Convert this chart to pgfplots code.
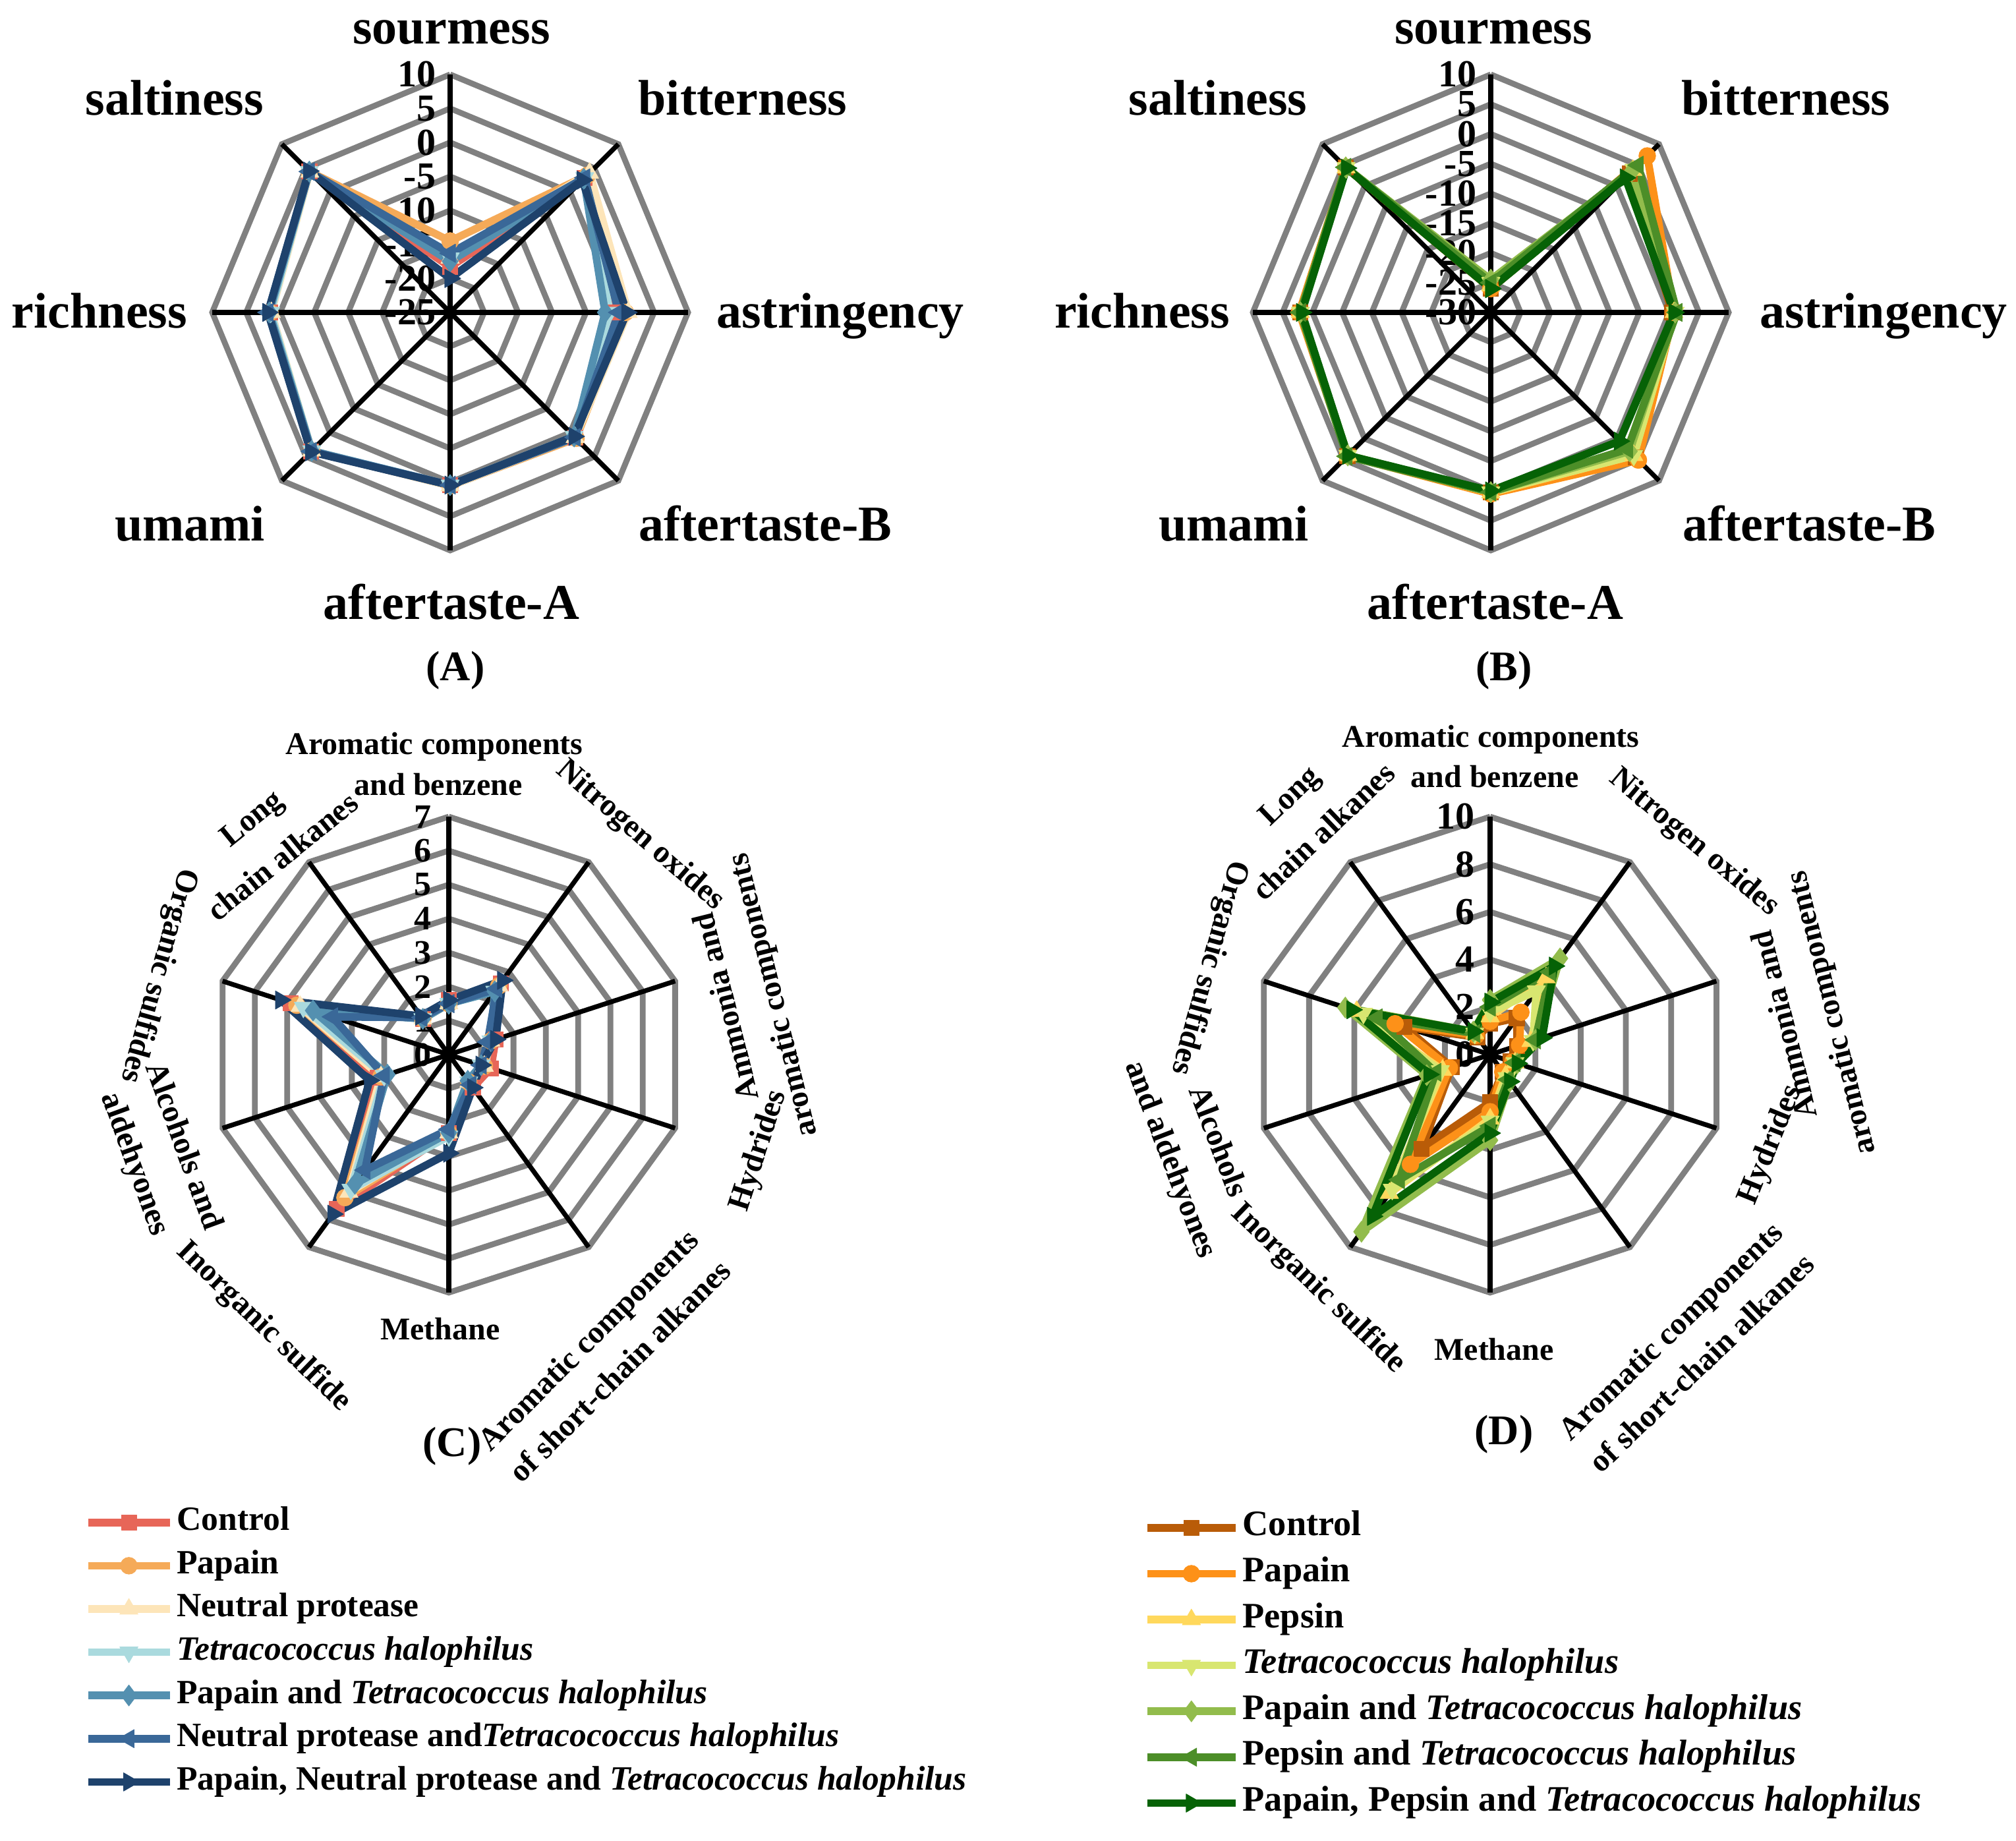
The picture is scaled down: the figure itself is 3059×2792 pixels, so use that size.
\documentclass[border=0pt]{standalone}
\usepackage{fontspec}
\setmainfont{Liberation Serif}
\usepackage{pgfplots}
\usepackage{pgfplotstable}
\pgfplotsset{compat=1.18}

\definecolor{gridgray}{RGB}{128,128,128}
% colours of panels A and C
\definecolor{aC}{RGB}{231,102,88}
\definecolor{aP}{RGB}{245,170,88}
\definecolor{aN}{RGB}{253,229,185}
\definecolor{aT}{RGB}{170,218,222}
\definecolor{aPT}{RGB}{84,144,176}
\definecolor{aNT}{RGB}{58,104,152}
\definecolor{aPNT}{RGB}{30,66,108}
% colours of panels B and D
\definecolor{bC}{RGB}{185,92,8}
\definecolor{bP}{RGB}{253,145,24}
\definecolor{bPe}{RGB}{255,216,92}
\definecolor{bT}{RGB}{216,230,112}
\definecolor{bPT}{RGB}{146,188,76}
\definecolor{bPeT}{RGB}{76,142,40}
\definecolor{bPPT}{RGB}{6,98,6}

% electronic tongue, panel A (last row closes the polygon)
\pgfplotstableread{
i c p n t pt nt pnt
0 -18.3 -14.5 -17 -17 -17.5 -16.3 -20
1 3 3.5 4 3 2.8 3 2.5
2 -0.8 0.8 1.2 -1.5 -2.2 -0.2 1
3 1 1.2 1 0.8 0.8 1 0.8
4 0.4 0.5 0.5 0.4 0.4 0.4 0.4
5 3.9 3.8 3.8 3.8 3.8 3.9 4
6 1.5 1.5 1.3 1.4 1.6 1.8 1.8
7 4.3 4.3 4.2 4.3 4.3 4.3 4.4
8 -18.3 -14.5 -17 -17 -17.5 -16.3 -20
}\tasteA

% electronic tongue, panel B
\pgfplotstableread{
i c p pe t pt pet ppt
0 -26 -26 -25.5 -25 -24.5 -25 -26
1 3 7.2 3.8 4 3.5 5 2
2 0.5 0.8 0.8 1 1 1.3 0.8
3 4.5 5.1 4 4 3 2.5 0.6
4 0.2 0.5 0.3 0.2 0.2 0.2 0
5 4.1 4.1 4 4 4 4.2 4
6 2 2.2 2 2 2 2 1.8
7 4.5 4.5 4.4 4.4 4.5 4.5 4.3
8 -26 -26 -25.5 -25 -24.5 -25 -26
}\tasteB

% electronic nose, panel C
\pgfplotstableread{
i c p n t pt nt pnt
0 1.6 1.5 1.5 1.5 1.5 1.5 1.6
1 2.6 2.5 2.5 2.3 2.3 2.4 2.7
2 1.45 1.3 1.3 1.3 1.3 1.2 1.45
3 1.3 1.1 1.1 1.0 1.0 1.0 1.0
4 1.2 1.0 1.0 1.0 0.95 1.1 1.2
5 2.3 2.3 2.3 2.4 2.3 2.2 2.9
6 5.6 5.2 5.0 4.9 4.7 4.2 5.8
7 2.2 2.1 2.1 2.0 1.9 2.0 2.45
8 4.9 4.7 4.6 4.5 4.2 3.6 5.2
9 1.3 1.3 1.3 1.3 1.3 1.35 1.4
10 1.6 1.5 1.5 1.5 1.5 1.5 1.6
}\noseC

% electronic nose, panel D
\pgfplotstableread{
i c p pe t pt pet ppt
0 1.3 1.4 1.6 1.8 2.3 2.0 2.2
1 1.9 2.2 4.0 3.3 5.0 4.3 4.6
2 1.2 1.3 1.8 1.9 2.0 2.0 2.3
3 0.9 1.0 1.1 1.1 1.2 1.1 1.2
4 0.9 0.9 1.1 1.2 1.4 1.3 1.4
5 2.0 2.4 2.7 2.8 3.6 3.0 3.3
6 4.9 5.7 7.2 7.0 9.2 6.5 8.4
7 1.7 1.8 2.1 2.2 2.8 2.4 2.7
8 3.8 4.2 5.9 5.6 6.4 5.0 6.1
9 0.9 1.0 1.1 1.1 1.2 1.1 1.2
10 1.3 1.4 1.6 1.8 2.3 2.0 2.2
}\noseD

% spoke index tables for the grid polygons (second column unused)
\pgfplotstableread{
i z
0 0
1 0
2 0
3 0
4 0
5 0
6 0
7 0
8 0
}\octo

\pgfplotstableread{
i z
0 0
1 0
2 0
3 0
4 0
5 0
6 0
7 0
8 0
9 0
10 0
}\deca

\pgfplotstableread{
r z
0 0
1 0
}\spk

% one axis per column of panels, spanning the whole page in pixel units
\pgfplotsset{
  page/.style={hide axis, scale only axis, width=764.75pt, height=698pt,
    xmin=0, xmax=3059, ymin=0, ymax=2792, clip=false},
  ringline/.style={gridgray, line width=2.2pt, forget plot, no markers},
  spokeline/.style={black, line width=1.8pt, forget plot, no markers},
  ser/.style={color=#1, line width=2.9pt, line join=round},
  m1/.style={mark=square*, mark size=2.9pt, mark options={solid, line width=0.2pt}},
  m2/.style={mark=*, mark size=3.2pt, mark options={solid, line width=0.2pt}},
  m3/.style={mark=triangle*, mark size=4pt, mark options={solid, line width=0.2pt}},
  m4/.style={mark=triangle*, mark size=4pt, mark options={solid, line width=0.2pt, rotate=180}},
  m5/.style={mark=diamond*, mark size=4pt, mark options={solid, line width=0.2pt}},
  m6/.style={mark=triangle*, mark size=4pt, mark options={solid, line width=0.2pt, rotate=90}},
  m7/.style={mark=triangle*, mark size=4pt, mark options={solid, line width=0.2pt, rotate=-90}},
  leg/.style 2 args={legend style={at={#1}, anchor=north west, draw=none, fill=none,
    inner sep=0pt, font=\bfseries\fontsize{#2}{#2}\selectfont,
    nodes={text height=9pt, text depth=3pt, inner xsep=1.25pt, inner ysep=0pt}},
    legend cell align=left},
}

% #1 style, #2 table, #3 column, #4 offset to centre, #5 angle between spokes,
% #6 #7 centre in pixels, #8 pixels per unit
\newcommand{\radar}[8]{\addplot[#1] table[x expr={#6+#8*(\thisrow{#3}+#4)*sin(#5*\thisrow{i})},
  y expr={#7+#8*(\thisrow{#3}+#4)*cos(#5*\thisrow{i})}] {#2};}

\tikzset{
  tlab/.style={anchor=east, inner sep=0pt, font=\bfseries\fontsize{14.5}{14.5}\selectfont},
  tlabc/.style={anchor=east, inner sep=0pt, font=\bfseries\fontsize{13}{13}\selectfont},
  big/.style={anchor=base, inner sep=0pt, font=\bfseries\fontsize{19}{19}\selectfont},
  clab/.style={inner sep=0pt, align=center, font=\bfseries\fontsize{12}{15.5}\selectfont},
  ptitle/.style={anchor=base, inner sep=0pt, font=\bfseries\fontsize{16}{16}\selectfont},
}

\begin{document}
\begin{tikzpicture}
\begin{scope}[x=0.25pt, y=0.25pt]
\path[use as bounding box] (0,0) rectangle (3059,2792);
\end{scope}

% ================= left column: (A) and (C) =================
\begin{axis}[page, leg={(0.0415,0.1816)}{12.9}, legend style={row sep=4.4pt},
  legend image code/.code={\draw[mark repeat=2, mark phase=2, #1] plot coordinates {(0pt,0pt) (15.5pt,0pt) (31pt,0pt)};}]
% (A): centre (683,2318), radius 361 px, -25 ... 10
\pgfplotsinvokeforeach{1,...,7}{\addplot[ringline] table[x expr={683+51.571*#1*sin(45*\thisrow{i})}, y expr={2318+51.571*#1*cos(45*\thisrow{i})}] {\octo};}
\pgfplotsinvokeforeach{0,...,7}{\addplot[spokeline] table[x expr={683+361*\thisrow{r}*sin(45*#1)}, y expr={2318+361*\thisrow{r}*cos(45*#1)}] {\spk};}
\node[tlab] at (axis cs:662,2679) {10};
\node[tlab] at (axis cs:662,2627.4) {5};
\node[tlab] at (axis cs:662,2575.9) {0};
\node[tlab] at (axis cs:662,2524.3) {-5};
\node[tlab] at (axis cs:662,2472.7) {-10};
\node[tlab] at (axis cs:662,2421.1) {-15};
\node[tlab] at (axis cs:662,2369.6) {-20};
\node[tlab] at (axis cs:662,2318) {-25};
\radar{ser=aC, m1, forget plot}{\tasteA}{c}{25}{45}{683}{2318}{10.314}
\radar{ser=aP, m2, forget plot}{\tasteA}{p}{25}{45}{683}{2318}{10.314}
\radar{ser=aN, m3, forget plot}{\tasteA}{n}{25}{45}{683}{2318}{10.314}
\radar{ser=aT, m4, forget plot}{\tasteA}{t}{25}{45}{683}{2318}{10.314}
\radar{ser=aPT, m5, forget plot}{\tasteA}{pt}{25}{45}{683}{2318}{10.314}
\radar{ser=aNT, m6, forget plot}{\tasteA}{nt}{25}{45}{683}{2318}{10.314}
\radar{ser=aPNT, m7, forget plot}{\tasteA}{pnt}{25}{45}{683}{2318}{10.314}
% (C): centre (681,1192), radius 361 px, 0 ... 7
\pgfplotsinvokeforeach{1,...,7}{\addplot[ringline] table[x expr={681+51.571*#1*sin(36*\thisrow{i})}, y expr={1192+51.571*#1*cos(36*\thisrow{i})}] {\deca};}
\pgfplotsinvokeforeach{0,...,9}{\addplot[spokeline] table[x expr={681+361*\thisrow{r}*sin(36*#1)}, y expr={1192+361*\thisrow{r}*cos(36*#1)}] {\spk};}
\pgfplotsinvokeforeach{0,...,7}{\node[tlabc] at (axis cs:655,{1192+51.571*#1}) {#1};}
\radar{ser=aC, m1}{\noseC}{c}{0}{36}{681}{1192}{51.571}
\addlegendentry{Control}
\radar{ser=aP, m2}{\noseC}{p}{0}{36}{681}{1192}{51.571}
\addlegendentry{Papain}
\radar{ser=aN, m3}{\noseC}{n}{0}{36}{681}{1192}{51.571}
\addlegendentry{Neutral protease}
\radar{ser=aT, m4}{\noseC}{t}{0}{36}{681}{1192}{51.571}
\addlegendentry{\textit{Tetracococcus halophilus}}
\radar{ser=aPT, m5}{\noseC}{pt}{0}{36}{681}{1192}{51.571}
\addlegendentry{Papain and \textit{Tetracococcus halophilus}}
\radar{ser=aNT, m6}{\noseC}{nt}{0}{36}{681}{1192}{51.571}
\addlegendentry{Neutral protease and\textit{Tetracococcus halophilus}}
\radar{ser=aPNT, m7}{\noseC}{pnt}{0}{36}{681}{1192}{51.571}
\addlegendentry{Papain, Neutral protease and \textit{Tetracococcus halophilus}}
\end{axis}

% ================= right column: (B) and (D) =================
\begin{axis}[page, leg={(0.5669,0.1787)}{13.6}, legend style={row sep=5.4pt},
  legend image code/.code={\draw[mark repeat=2, mark phase=2, #1] plot coordinates {(0pt,0pt) (16.75pt,0pt) (33.5pt,0pt)};}]
% (B): centre (2262,2318), radius 361 px, -30 ... 10
\pgfplotsinvokeforeach{1,...,8}{\addplot[ringline] table[x expr={2262+45.125*#1*sin(45*\thisrow{i})}, y expr={2318+45.125*#1*cos(45*\thisrow{i})}] {\octo};}
\pgfplotsinvokeforeach{0,...,7}{\addplot[spokeline] table[x expr={2262+361*\thisrow{r}*sin(45*#1)}, y expr={2318+361*\thisrow{r}*cos(45*#1)}] {\spk};}
\node[tlab] at (axis cs:2241,2679) {10};
\node[tlab] at (axis cs:2241,2633.9) {5};
\node[tlab] at (axis cs:2241,2588.8) {0};
\node[tlab] at (axis cs:2241,2543.6) {-5};
\node[tlab] at (axis cs:2241,2498.5) {-10};
\node[tlab] at (axis cs:2241,2453.4) {-15};
\node[tlab] at (axis cs:2241,2408.3) {-20};
\node[tlab] at (axis cs:2241,2363.1) {-25};
\node[tlab] at (axis cs:2241,2318) {-30};
\radar{ser=bC, m1, forget plot}{\tasteB}{c}{30}{45}{2262}{2318}{9.025}
\radar{ser=bP, m2, forget plot}{\tasteB}{p}{30}{45}{2262}{2318}{9.025}
\radar{ser=bPe, m3, forget plot}{\tasteB}{pe}{30}{45}{2262}{2318}{9.025}
\radar{ser=bT, m4, forget plot}{\tasteB}{t}{30}{45}{2262}{2318}{9.025}
\radar{ser=bPT, m5, forget plot}{\tasteB}{pt}{30}{45}{2262}{2318}{9.025}
\radar{ser=bPeT, m6, forget plot}{\tasteB}{pet}{30}{45}{2262}{2318}{9.025}
\radar{ser=bPPT, m7, forget plot}{\tasteB}{ppt}{30}{45}{2262}{2318}{9.025}
% (D): centre (2261,1192), radius 361 px, 0 ... 10
\pgfplotsinvokeforeach{1,...,5}{\addplot[ringline] table[x expr={2261+72.2*#1*sin(36*\thisrow{i})}, y expr={1192+72.2*#1*cos(36*\thisrow{i})}] {\deca};}
\pgfplotsinvokeforeach{0,...,9}{\addplot[spokeline] table[x expr={2261+361*\thisrow{r}*sin(36*#1)}, y expr={1192+361*\thisrow{r}*cos(36*#1)}] {\spk};}
\pgfplotsinvokeforeach{0,2,...,10}{\node[tlab] at (axis cs:2238,{1192+36.1*#1}) {#1};}
\radar{ser=bC, m1}{\noseD}{c}{0}{36}{2261}{1192}{36.1}
\addlegendentry{Control}
\radar{ser=bP, m2}{\noseD}{p}{0}{36}{2261}{1192}{36.1}
\addlegendentry{Papain}
\radar{ser=bPe, m3}{\noseD}{pe}{0}{36}{2261}{1192}{36.1}
\addlegendentry{Pepsin}
\radar{ser=bT, m4}{\noseD}{t}{0}{36}{2261}{1192}{36.1}
\addlegendentry{\textit{Tetracococcus halophilus}}
\radar{ser=bPT, m5}{\noseD}{pt}{0}{36}{2261}{1192}{36.1}
\addlegendentry{Papain and \textit{Tetracococcus halophilus}}
\radar{ser=bPeT, m6}{\noseD}{pet}{0}{36}{2261}{1192}{36.1}
\addlegendentry{Pepsin and \textit{Tetracococcus halophilus}}
\radar{ser=bPPT, m7}{\noseD}{ppt}{0}{36}{2261}{1192}{36.1}
\addlegendentry{Papain, Pepsin and \textit{Tetracococcus halophilus}}
\end{axis}

\begin{scope}[x=0.25pt, y=0.25pt]
% ---------- category labels, A ----------
\node[big] at (685,2725) {sourmess};
\node[big] at (265,2617) {saltiness};
\node[big] at (1127,2617) {bitterness};
\node[big] at (151,2294) {richness};
\node[big] at (1275,2294) {astringency};
\node[big] at (288,1971) {umami};
\node[big] at (1161,1971) {aftertaste-B};
\node[big] at (685,1852) {aftertaste-A};
\node[ptitle] at (691,1759) {(A)};

% ---------- category labels, B ----------
\node[big] at (2266,2725) {sourmess};
\node[big] at (1848,2617) {saltiness};
\node[big] at (2710,2617) {bitterness};
\node[big] at (1733,2294) {richness};
\node[big] at (2858,2294) {astringency};
\node[big] at (1872,1971) {umami};
\node[big] at (2745,1971) {aftertaste-B};
\node[big] at (2269,1852) {aftertaste-A};
\node[ptitle] at (2282,1759) {(B)};

% ---------- category labels, C ----------
\node[clab, anchor=base] at (659,1647) {Aromatic components};
\node[clab, anchor=base] at (665,1585) {and benzene};
\node[clab, rotate=-41] at (971,1524) {Nitrogen oxides};
\node[clab, rotate=104, font=\bfseries\fontsize{12}{18}\selectfont] at (1140,1274) {Ammonia and\\aromatic components};
\node[clab, rotate=72] at (1152,1046) {Hydrides};
\node[clab, rotate=45, font=\bfseries\fontsize{12}{17}\selectfont] at (916,736) {Aromatic components\\of short-chain alkanes};
\node[clab] at (668,776) {Methane};
\node[clab, rotate=-44] at (400,779) {Inorganic sulfide};
\node[clab, rotate=-70, font=\bfseries\fontsize{12}{19.5}\selectfont] at (240,1039) {Alcohols and\\aldehyones};
\node[clab, rotate=-105.5] at (240,1312) {Organic sulfides};
\node[clab, rotate=39, font=\bfseries\fontsize{12}{19}\selectfont] at (405,1522) {Long\\chain alkanes};
\node[ptitle] at (686,582) {(C)};

% ---------- category labels, D ----------
\node[clab, anchor=base] at (2262,1658) {Aromatic components};
\node[clab, anchor=base] at (2268,1597) {and benzene};
\node[clab, rotate=-40] at (2570,1513) {Nitrogen oxides};
\node[clab, rotate=104, font=\bfseries\fontsize{12}{18}\selectfont] at (2746,1247) {Ammonia and\\aromatic components};
\node[clab, rotate=68] at (2687,1055) {Hydrides};
\node[clab, rotate=44, font=\bfseries\fontsize{12}{17}\selectfont] at (2558,749) {Aromatic components\\of short-chain alkanes};
\node[clab] at (2267,745) {Methane};
\node[clab, rotate=-44] at (2000,837) {Inorganic sulfide};
\node[clab, rotate=-69, font=\bfseries\fontsize{12}{19}\selectfont] at (1810,1046) {Alcohols\\and aldehyones};
\node[clab, rotate=-105.5] at (1834,1324) {Organic sulfides};
\node[clab, rotate=43.7, font=\bfseries\fontsize{12}{19}\selectfont] at (1982,1558) {Long\\chain alkanes};
\node[ptitle] at (2282,600) {(D)};
\end{scope}
\end{tikzpicture}
\end{document}
